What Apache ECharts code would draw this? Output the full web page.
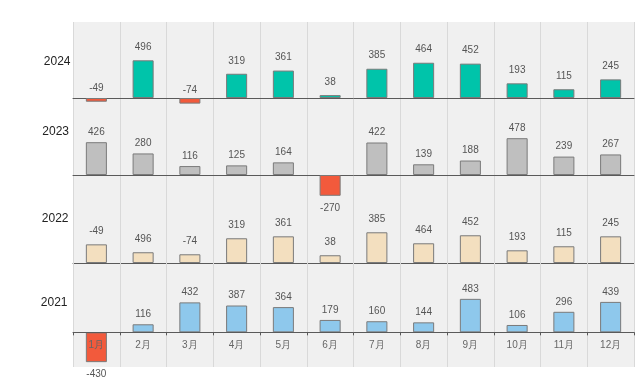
<!DOCTYPE html>
<html><head><meta charset="utf-8">
<script src="https://cdn.jsdelivr.net/npm/echarts@6/dist/echarts.min.js"></script>
<style>html,body{margin:0;padding:0;background:#fff}#c{width:644px;height:382px}</style>
</head><body><div id="c"></div>
<script>
const months = ['1月','2月','3月','4月','5月','6月','7月','8月','9月','10月','11月','12月'];
const years = ['2024','2023','2022','2021'];
const values2024 = [-49,496,-74,319,361,38,385,464,452,193,115,245];
const values2023 = [426,280,116,125,164,-270,422,139,188,478,239,267];
const values2022 = [212,122,99,281,303,88,349,224,315,144,190,303];
const labels2022 = ['-49','496','-74','319','361','38','385','464','452','193','115','245'];
const values2021 = [-430,116,432,387,364,179,160,144,483,106,296,439];

const FONT = "'Liberation Sans', Arial, sans-serif";
const RED = '#f25a3c';
const rows = [
  {vals: values2024, color: '#00c4aa', dist: 8, neg: 'insideBottom', negDist: 8, labels: null},
  {vals: values2023, color: '#bfbfbf', dist: 5, neg: 'bottom', negDist: 7, labels: null},
  {vals: values2022, color: '#f3dfbf', dist: 8, neg: 'bottom', negDist: 7, labels: labels2022},
  {vals: values2021, color: '#8ec8ec', dist: 5, neg: 'bottom', negDist: 7, labels: null}
];
const gridPos = [{top:22,height:76},{top:98,height:77},{top:175,height:88},{top:263,height:104}];
const yRange = [[0,1000],[0,1000],[0,1000],[-500,1000]];
const yearLabelPos = [[70.5,63],[69,133],[68.5,220],[67.5,304]];

const chart = echarts.init(document.getElementById('c'), null, {renderer:'canvas'});
const option = {
  animation: false,
  textStyle: {fontFamily: FONT},
  grid: gridPos.map(g => ({left:73, width:561, top:g.top, height:g.height, show:true, backgroundColor:'#f0f0f0', borderWidth:0, containLabel:false})),
  xAxis: rows.map((r,i) => {
    const zeroOffset = -gridPos[i].height * (0 - yRange[i][0]) / (yRange[i][1] - yRange[i][0]);
    return {
      type:'category', gridIndex:i, data: months, z: i===3 ? 3 : 0,
      offset: zeroOffset,
      axisLine:{show:true, onZero:false, lineStyle:{color:'#5a5a5a', width:1}},
      axisTick:{show: i===3, length:3, lineStyle:{color:'#5a5a5a'}},
      axisLabel:{show: i===3, color:'#666', fontSize:10, margin:8, fontFamily: FONT},
      splitLine:{show:true, lineStyle:{color:'#d9d9d9', width:1}}
    };
  }),
  yAxis: rows.map((r,i) => ({type:'value', gridIndex:i, min:yRange[i][0], max:yRange[i][1], show:false, splitLine:{show:false}})),
  graphic: years.map((y,i) => ({type:'text', right: 644 - yearLabelPos[i][0], top: yearLabelPos[i][1] - 7,
    style:{text:y, fill:'#222', font: '12px ' + FONT}})),
  series: rows.map((r,i) => ({
    type:'bar', xAxisIndex:i, yAxisIndex:i, barWidth:'45%', clip:false,
    data: r.vals.map((v,j) => ({
      value: v,
      itemStyle: {color: (v < 0 && !r.labels) ? RED : r.color, borderColor:'#7a7a7a', borderWidth:1},
      label: {show:true, position: v < 0 ? r.neg : 'top', distance: v < 0 ? r.negDist : r.dist, color:'#555', fontSize:10, fontFamily: FONT,
        formatter: r.labels ? r.labels[j] : String(v)}
    }))
  }))
};
chart.setOption(option);
</script></body></html>
